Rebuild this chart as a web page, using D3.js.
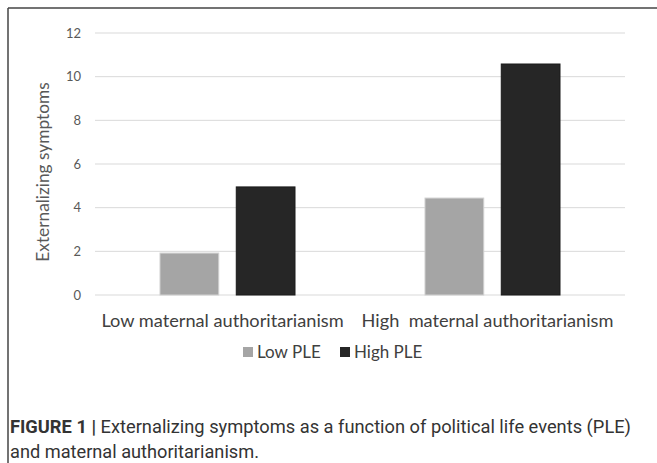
<!DOCTYPE html>
<html><head><meta charset="utf-8">
<script src="https://cdn.jsdelivr.net/npm/d3@7"></script>
<style>
html,body{margin:0;padding:0;background:#fff;}
svg{display:block;}
</style></head>
<body>
<svg id="c" width="657" height="463"></svg>
<script>
const categories = ["Low maternal authoritarianism", "High  maternal authoritarianism"];
const seriesNames = ["Low PLE", "High PLE"];
const lowPLE = [1.92, 4.44];
const highPLE = [4.95, 10.58];
const yTicks = [0, 2, 4, 6, 8, 10, 12];
const colors = ["#a5a5a5", "#262626"];

const svg = d3.select("#c");
// frame
svg.append("line").attr("x1",8).attr("x2",657).attr("y1",8).attr("y2",8).attr("stroke","#444").attr("stroke-width",1.5);
svg.append("line").attr("x1",8).attr("x2",8).attr("y1",8).attr("y2",463).attr("stroke","#444").attr("stroke-width",1.5);

const x0 = d3.scaleBand().domain(categories).range([95, 625]);
const x1 = d3.scaleBand().domain(seriesNames).range([0, 135]).paddingInner(0.23);
const y = d3.scaleLinear().domain([0, 12]).range([295, 33]);

// gridlines
svg.append("g").selectAll("line").data(yTicks).join("line")
  .attr("x1", 95).attr("x2", 625)
  .attr("y1", d => y(d)).attr("y2", d => y(d))
  .attr("stroke", "#d9d9d9").attr("stroke-width", 1);

// y axis labels
const yAxis = d3.axisLeft(y).tickValues(yTicks).tickSize(0).tickPadding(0);
const yg = svg.append("g").attr("transform", "translate(81,0)").call(yAxis);
yg.select(".domain").remove();
yg.selectAll("text").attr("font-family","Lato, 'Open Sans', sans-serif").attr("font-size", 13).attr("fill","#595959");

// bars
const data = categories.map((c,i) => ({c, vals: [lowPLE[i], highPLE[i]]}));
const groups = svg.append("g").selectAll("g").data(data).join("g")
  .attr("transform", d => `translate(${x0(d.c) + (x0.bandwidth()-135)/2},0)`);
groups.selectAll("rect").data(d => d.vals.map((v,j) => ({s: seriesNames[j], v, j}))).join("rect")
  .attr("x", d => x1(d.s)).attr("width", x1.bandwidth())
  .attr("y", d => y(d.v)).attr("height", d => y(0) - y(d.v))
  .attr("fill", d => colors[d.j])
  .attr("stroke", d => d.j === 0 ? "#d0d0d0" : "#1a1a1a").attr("stroke-width", 1);

// x axis labels
const xAxis = d3.axisBottom(x0).tickSize(0).tickPadding(0);
const xg = svg.append("g").attr("transform", "translate(0,314)").call(xAxis);
xg.select(".domain").remove();
xg.selectAll("text").attr("font-family","Lato, 'Open Sans', sans-serif").attr("font-size", 18.2).attr("fill","#404040")
  .attr("dx", -5)
  .style("white-space","pre").attr("xml:space","preserve");

// y title
svg.append("text").attr("transform","translate(49,172) rotate(-90)")
  .attr("text-anchor","middle").attr("font-family","Lato, 'Open Sans', sans-serif")
  .attr("font-size", 17.3).attr("fill","#595959").text("Externalizing symptoms");

// legend
const legendX = [243, 340];
const lg = svg.append("g").selectAll("g").data(seriesNames).join("g")
  .attr("transform", (d,i) => `translate(${legendX[i]},0)`);
lg.append("rect").attr("x",0).attr("y",347).attr("width",10).attr("height",10).attr("fill",(d,i)=>colors[i]);
lg.append("text").attr("x",14).attr("y",358).attr("font-family","Lato, 'Open Sans', sans-serif")
  .attr("font-size",17).attr("fill","#404040").text(d=>d);

// caption
const capFont = "Roboto, 'Liberation Sans', sans-serif";
const cap = svg.append("text").attr("x",10).attr("y",433)
  .attr("font-family",capFont).attr("font-size",18.2).attr("fill","#333")
  .attr("textLength", 621).attr("lengthAdjust","spacingAndGlyphs");
cap.append("tspan").attr("font-weight","bold").text("FIGURE 1 | ");
cap.append("tspan").text("Externalizing symptoms as a function of political life events (PLE)");
svg.append("text").attr("x",10).attr("y",458)
  .attr("font-family",capFont).attr("font-size",18.2).attr("fill","#333")
  .text("and maternal authoritarianism.");
</script>
</body></html>
